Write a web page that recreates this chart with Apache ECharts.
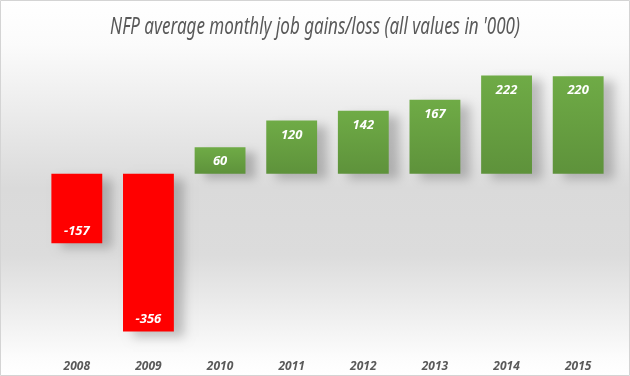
<!DOCTYPE html>
<html lang="en">
<head>
  <meta charset="UTF-8">
  <title>NFP average monthly job gains/loss</title>
  <script src="https://cdn.jsdelivr.net/npm/echarts@6/dist/echarts.min.js"></script>
  <style>
    html, body { margin: 0; padding: 0; }
  </style>
</head>
<body>
  <div id="main" style="width: 630px;height:376px;"></div>
  <script>
    var years = ['2008', '2009', '2010', '2011', '2012', '2013', '2014', '2015'];
    var jobGains = [-157, -356, 60, 120, 142, 167, 222, 220];
    var chartTitle = "NFP average monthly job gains/loss (all values in '000)";

    var myChart = echarts.init(document.getElementById('main'));

    // 负值红色，正值绿色渐变
    var barData = jobGains.map(function (v) {
      var neg = v < 0;
      return {
        value: v,
        itemStyle: {
          color: neg ? '#ff0000' : new echarts.graphic.LinearGradient(0, 0, 0, 1, [
            { offset: 0, color: '#6fab46' },
            { offset: 1, color: '#5e923b' }
          ])
        },
        label: {
          position: neg ? 'insideBottom' : 'insideTop',
          distance: neg ? 6 : 8
        }
      };
    });

    var option = {
      animation: false,
      graphic: [
        {
          type: 'rect',
          z: -10,
          silent: true,
          shape: { x: 0.5, y: 0.5, width: 629, height: 375 },
          style: {
            fill: new echarts.graphic.LinearGradient(0, 0, 0, 1, [
              { offset: 0, color: '#ffffff' },
              { offset: 0.12, color: '#fbfbfb' },
              { offset: 0.5, color: '#dadada' },
              { offset: 0.68, color: '#dcdcdc' },
              { offset: 0.95, color: '#fcfcfc' },
              { offset: 1, color: '#ffffff' }
            ]),
            stroke: '#d4d4d4',
            lineWidth: 1
          }
        },
        {
          // 标题用窄体：横向压缩
          type: 'text',
          x: 315,
          y: 27,
          scaleX: 0.74,
          silent: true,
          style: {
            x: 0,
            y: 0,
            text: chartTitle,
            align: 'center',
            verticalAlign: 'middle',
            font: 'italic 23px "Noto Sans", sans-serif',
            fill: '#595959'
          }
        }
      ],
      grid: {
        left: 41,
        right: 16,
        top: 63,
        bottom: 25
      },
      xAxis: {
        type: 'category',
        data: years,
        position: 'bottom',
        axisLine: { show: false, onZero: false },
        axisTick: { show: false },
        axisLabel: {
          margin: 10,
          color: '#595959',
          fontStyle: 'italic',
          fontWeight: 'bold',
          fontSize: 12,
          fontFamily: 'Noto Sans, sans-serif'
        }
      },
      yAxis: {
        type: 'value',
        min: -400,
        max: 250,
        show: false,
        splitLine: { show: false }
      },
      series: [
        {
          type: 'bar',
          data: barData,
          barCategoryGap: '29%',
          itemStyle: {
            shadowColor: 'rgba(0,0,0,0.22)',
            shadowBlur: 10,
            shadowOffsetX: 10,
            shadowOffsetY: 5
          },
          label: {
            show: true,
            color: '#ffffff',
            fontStyle: 'italic',
            fontWeight: 'bold',
            fontSize: 13,
            fontFamily: 'Noto Sans, sans-serif'
          }
        }
      ]
    };

    myChart.setOption(option);
  </script>
</body>
</html>
